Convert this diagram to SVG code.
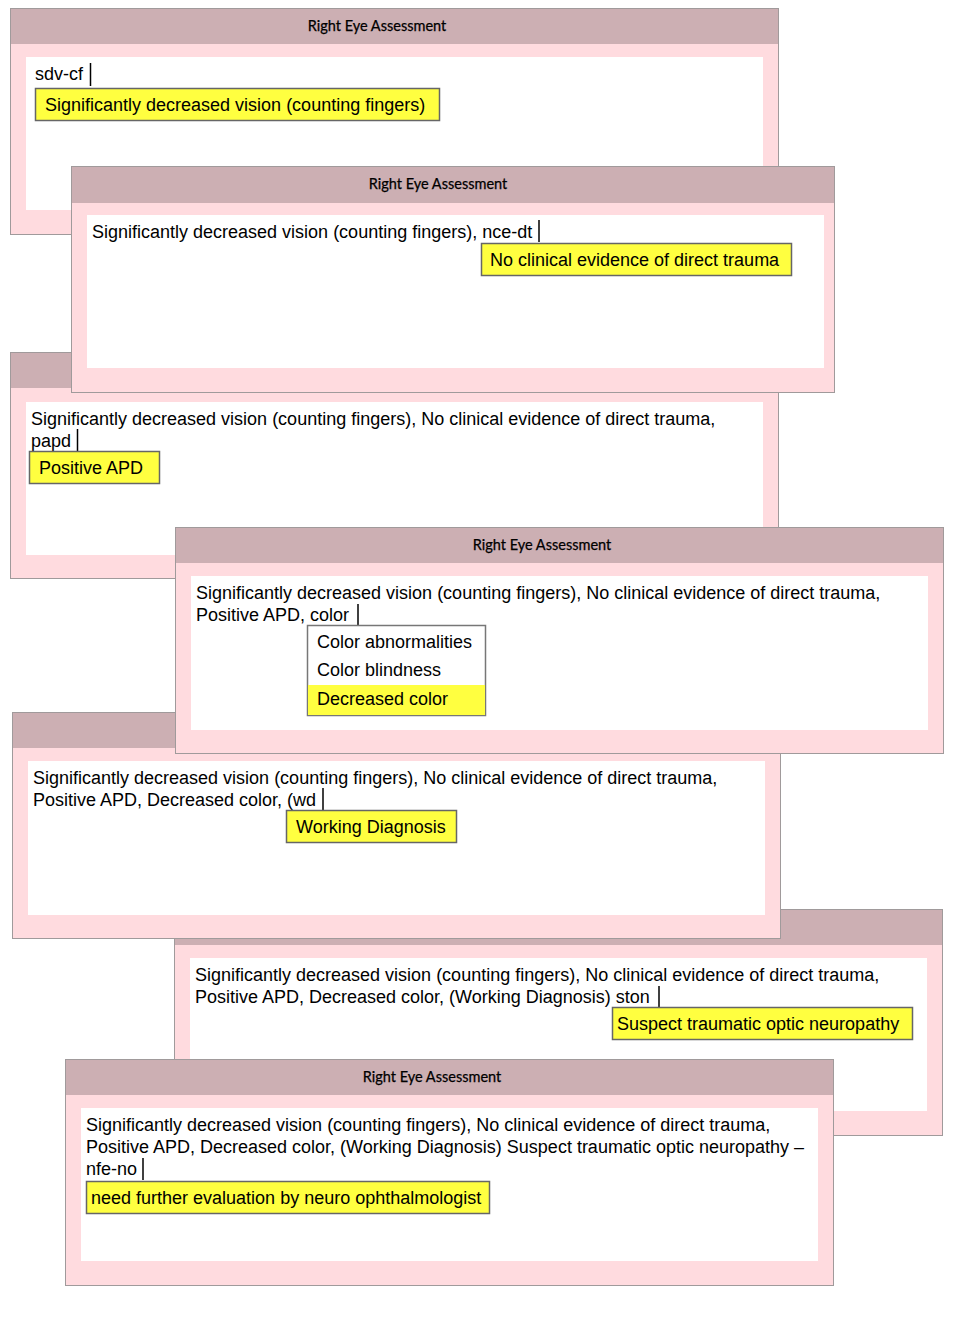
<svg xmlns="http://www.w3.org/2000/svg" width="955" height="1337" viewBox="0 0 955 1337">
<defs>
<style>
.outer{fill:#FFDBDF;stroke:#A09A9B;stroke-width:1}
.bar{fill:#CCAFB3}
.inner{fill:#FFFFFF}
.ttl{font-family:Lato,"Open Sans",sans-serif;font-size:14.5px;fill:#000;stroke:#000;stroke-width:0.25;text-anchor:middle}
.t{font-family:"Liberation Sans",Arial,sans-serif;font-size:18px;fill:#000}
.sel{fill:#FFFF40;stroke:#666;stroke-width:1.5}
.cur{stroke:#000;stroke-width:1.5}
.dd{fill:#FFFFFF;stroke:#777;stroke-width:1.5}
</style>
</defs>
<rect width="955" height="1337" fill="#FFFFFF"/>

<g id="panel1">
<rect class="outer" x="10.5" y="8.5" width="768" height="226"/>
<rect class="bar" x="11" y="9" width="767" height="35"/>
<rect class="inner" x="26" y="57" width="737" height="153"/>
<text class="ttl" x="377" y="31">Right Eye Assessment</text>
<text class="t" x="35" y="80">sdv-cf</text>
<line class="cur" x1="90.5" y1="63" x2="90.5" y2="86"/>
<rect class="sel" x="35.5" y="88.5" width="404" height="32"/>
<text class="t" x="45" y="111">Significantly decreased vision (counting fingers)</text>
</g>

<g id="panel3">
<rect class="outer" x="10.5" y="352.5" width="768" height="226"/>
<rect class="bar" x="11" y="353" width="767" height="35"/>
<rect class="inner" x="26" y="402" width="737" height="153"/>
<text class="t" x="31" y="425">Significantly decreased vision (counting fingers), No clinical evidence of direct trauma,</text>
<text class="t" x="31" y="447">papd</text>
<line class="cur" x1="77.5" y1="429" x2="77.5" y2="452"/>
<rect class="sel" x="29.5" y="451.5" width="130" height="32"/>
<text class="t" x="39" y="474">Positive APD</text>
</g>

<g id="panel2">
<rect class="outer" x="71.5" y="166.5" width="763" height="226"/>
<rect class="bar" x="72" y="167" width="762" height="36"/>
<rect class="inner" x="87" y="215" width="737" height="153"/>
<text class="ttl" x="438" y="189">Right Eye Assessment</text>
<text class="t" x="92" y="238">Significantly decreased vision (counting fingers), nce-dt</text>
<line class="cur" x1="539" y1="220" x2="539" y2="242"/>
<rect class="sel" x="481.5" y="243.5" width="310" height="32"/>
<text class="t" x="490" y="266">No clinical evidence of direct trauma</text>
</g>

<g id="panel6">
<rect class="outer" x="174.5" y="909.5" width="768" height="226"/>
<rect class="bar" x="175" y="910" width="767" height="35"/>
<rect class="inner" x="190" y="958" width="737" height="153"/>
<text class="t" x="195" y="981">Significantly decreased vision (counting fingers), No clinical evidence of direct trauma,</text>
<text class="t" x="195" y="1003">Positive APD, Decreased color, (Working Diagnosis) ston</text>
<line class="cur" x1="659" y1="986" x2="659" y2="1008"/>
<rect class="sel" x="612.5" y="1007.5" width="300" height="32"/>
<text class="t" x="617" y="1030">Suspect traumatic optic neuropathy</text>
</g>

<g id="panel5">
<rect class="outer" x="12.5" y="712.5" width="768" height="226"/>
<rect class="bar" x="13" y="713" width="767" height="35"/>
<rect class="inner" x="28" y="761" width="737" height="154"/>
<text class="t" x="33" y="784">Significantly decreased vision (counting fingers), No clinical evidence of direct trauma,</text>
<text class="t" x="33" y="806">Positive APD, Decreased color, (wd</text>
<line class="cur" x1="323" y1="788" x2="323" y2="810"/>
<rect class="sel" x="286.5" y="810.5" width="170" height="32"/>
<text class="t" x="296" y="833">Working Diagnosis</text>
</g>

<g id="panel4">
<rect class="outer" x="175.5" y="527.5" width="768" height="226"/>
<rect class="bar" x="176" y="528" width="767" height="35"/>
<rect class="inner" x="191" y="576" width="737" height="154"/>
<text class="ttl" x="542" y="550">Right Eye Assessment</text>
<text class="t" x="196" y="599">Significantly decreased vision (counting fingers), No clinical evidence of direct trauma,</text>
<text class="t" x="196" y="621">Positive APD, color</text>
<line class="cur" x1="358" y1="604" x2="358" y2="626"/>
<rect class="dd" x="307.5" y="625.5" width="178" height="90"/>
<rect x="308" y="685" width="177" height="30" fill="#FFFF40"/>
<text class="t" x="317" y="648">Color abnormalities</text>
<text class="t" x="317" y="676">Color blindness</text>
<text class="t" x="317" y="705">Decreased color</text>
</g>

<g id="panel7">
<rect class="outer" x="65.5" y="1059.5" width="768" height="226"/>
<rect class="bar" x="66" y="1060" width="767" height="35"/>
<rect class="inner" x="81" y="1108" width="737" height="153"/>
<text class="ttl" x="432" y="1082">Right Eye Assessment</text>
<text class="t" x="86" y="1131">Significantly decreased vision (counting fingers), No clinical evidence of direct trauma,</text>
<text class="t" x="86" y="1153">Positive APD, Decreased color, (Working Diagnosis) Suspect traumatic optic neuropathy –</text>
<text class="t" x="86" y="1175">nfe-no</text>
<line class="cur" x1="143" y1="1158" x2="143" y2="1180"/>
<rect class="sel" x="86.5" y="1181.5" width="403" height="32"/>
<text class="t" x="91" y="1204">need further evaluation by neuro ophthalmologist</text>
</g>

<g id="connectors"></g>
</svg>
